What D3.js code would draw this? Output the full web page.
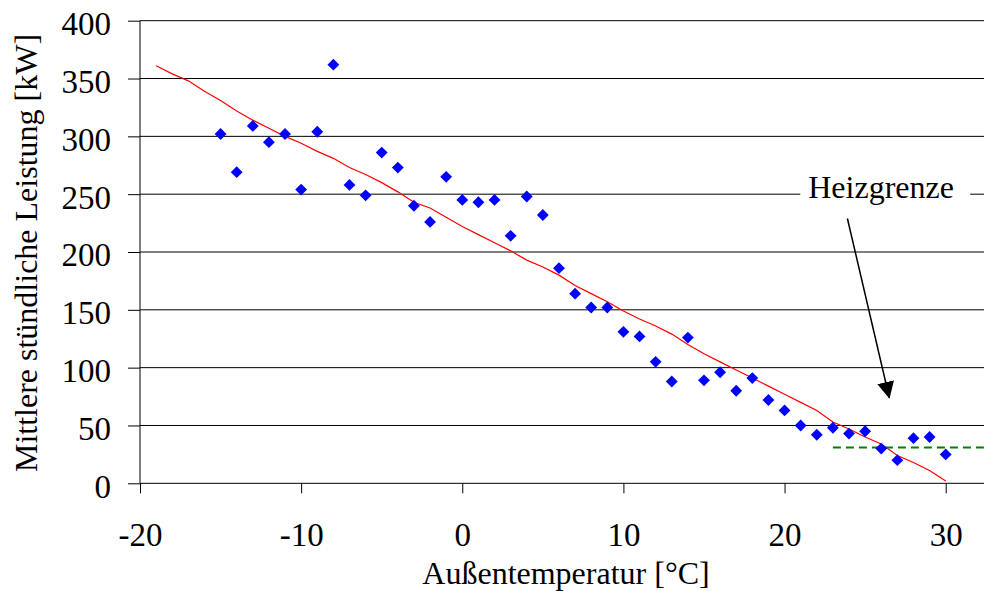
<!DOCTYPE html>
<meta charset="utf-8">
<script src="https://cdn.jsdelivr.net/npm/d3@7"></script>
<style>
body { margin: 0; background: #fff; }
svg text { font-family: "Liberation Serif", "DejaVu Serif", serif !important; fill: #000; }
.axis path { display: none; }
.axis line { stroke: #000; }
.axis text { font-size: 33px; }
.grid { stroke: #000; stroke-width: 1; }
</style>
<body>
<script>

var width = 984
var height = 591
var serif = "'Liberation Serif', 'DejaVu Serif', serif"

// Messwerte: Außentemperatur [°C] und mittlere stündliche Leistung [kW]
var temperatur = [-15, -14, -13, -12, -11, -10, -9, -8, -7, -6,
                  -5, -4, -3, -2, -1, 0, 1, 2, 3, 4,
                  5, 6, 7, 8, 9, 10, 11, 12, 13, 14,
                  15, 16, 17, 18, 19, 20, 21, 22, 23, 24,
                  25, 26, 27, 28, 29, 30]
var leistung = [302, 269, 309, 295, 302, 254, 304, 362, 258, 249,
                286, 273, 240, 226, 265, 245, 243, 245, 214, 248,
                232, 186, 164, 152, 152, 131, 127, 105, 88, 126,
                89, 96, 80, 91, 72, 63, 50, 42, 48, 43,
                45, 30, 20, 39, 40, 25]

// rote Trendlinie
var trendTemp = [-19, -18, -17, -16, -15, -14, -13, -12, -11, -10,
                 -9, -8, -7, -6, -5, -4, -3, -2, -1, 0,
                 1, 2, 3, 4, 5, 6, 7, 8, 9, 10,
                 11, 12, 13, 14, 15, 16, 17, 18, 19, 20,
                 21, 22, 23, 24, 25, 26, 27, 28, 29, 30]
var trendWert = [361, 354, 348, 339, 331, 322, 314, 307, 300, 294,
                 287, 281, 273, 267, 260, 252, 243, 238, 230, 222,
                 215, 208, 201, 193, 187, 180, 171, 164, 157, 149,
                 142, 136, 129, 120, 112, 105, 98, 91, 84, 77,
                 70, 63, 53, 47, 40, 34, 24, 18, 11, 2]

// Heizgrenze (gestrichelt) und Pfeil
var heizTemp = [23, 32.4]
var heizWert = [31, 31]
var pfeilVon = [23.9, 229]
var pfeilNach = [26.5, 74]
var labelPos = [21.47, 246.5]

var xTicks = [-20, -10, 0, 10, 20, 30]
var yTicks = [0, 50, 100, 150, 200, 250, 300, 350, 400]

var x = d3.scaleLinear().domain([-20, 30]).range([140, 945.7])
var y = d3.scaleLinear().domain([0, 400]).range([483.3, 20.7])

var svg = d3.select("body").append("svg")
            .attr("width", width)
            .attr("height", height)

// Gitterlinien
svg.append("g").selectAll("line")
    .data(yTicks.slice(1))
    .enter().append("line")
      .attr("class", "grid")
      .attr("x1", x(-20)).attr("x2", width)
      .attr("y1", d => y(d)).attr("y2", d => y(d))

// Achsen
svg.append("g")
    .attr("class", "axis")
    .attr("transform", "translate(" + x(-20) + ",0)")
    .call(d3.axisLeft(y).tickValues(yTicks).tickSize(12).tickPadding(17))
    .selectAll("text").attr("dy", "0.42em")

svg.append("g")
    .attr("class", "axis")
    .attr("transform", "translate(0," + y(0) + ")")
    .call(d3.axisBottom(x).tickValues(xTicks).tickSize(10)
            .tickFormat(d => String(d)))
    .selectAll("text").attr("y", 63).attr("dy", 0)

svg.selectAll(".axis").attr("font-family", serif)

svg.append("line")
    .attr("x1", x(-20)).attr("x2", x(-20))
    .attr("y1", y(400)).attr("y2", y(0))
    .attr("stroke", "#000")
svg.append("line")
    .attr("x1", x(-20)).attr("x2", width)
    .attr("y1", y(0)).attr("y2", y(0))
    .attr("stroke", "#000")

// Beschriftung Heizgrenze mit weißem Hintergrund
svg.append("rect")
    .attr("x", x(labelPos[0]) - 8).attr("y", y(labelPos[1]) - 24)
    .attr("width", 170).attr("height", 32)
    .attr("fill", "#fff")
svg.append("text")
    .attr("x", x(labelPos[0])).attr("y", y(labelPos[1]))
    .attr("font-family", serif)
    .style("font-size", "32px")
    .text("Heizgrenze")

// Trendlinie
svg.append("path")
    .datum(trendTemp.map((t, i) => [t, trendWert[i]]))
    .attr("fill", "none")
    .attr("stroke", "#ff0000")
    .attr("stroke-width", 1.2)
    .attr("d", d3.line().x(d => x(d[0])).y(d => y(d[1])))

// Heizgrenze gestrichelt
svg.append("path")
    .datum(heizTemp.map((t, i) => [t, heizWert[i]]))
    .attr("fill", "none")
    .attr("stroke", "#008000")
    .attr("stroke-width", 2)
    .attr("stroke-dasharray", "8,5")
    .attr("d", d3.line().x(d => x(d[0])).y(d => y(d[1])))

// Messpunkte
svg.append("g").selectAll("path")
    .data(temperatur.map((t, i) => [t, leistung[i]]))
    .enter().append("path")
      .attr("d", d3.symbol(d3.symbolSquare, 70))
      .attr("transform", d => "translate(" + x(d[0]) + "," + y(d[1]) + ") rotate(45)")
      .attr("fill", "#0000ff")

// Pfeil
svg.append("defs").append("marker")
    .attr("id", "spitze")
    .attr("viewBox", "0 0 16 16")
    .attr("refX", 15).attr("refY", 8)
    .attr("markerWidth", 17).attr("markerHeight", 17)
    .attr("markerUnits", "userSpaceOnUse")
    .attr("orient", "auto")
  .append("path")
    .attr("d", "M0,0L16,8L0,16Z")
    .attr("fill", "#000")

svg.append("line")
    .attr("x1", x(pfeilVon[0])).attr("y1", y(pfeilVon[1]))
    .attr("x2", x(pfeilNach[0])).attr("y2", y(pfeilNach[1]))
    .attr("stroke", "#000")
    .attr("stroke-width", 1.5)
    .attr("marker-end", "url(#spitze)")

// Achsentitel
svg.append("text")
    .attr("transform", "translate(37," + 253 + ") rotate(-90)")
    .attr("text-anchor", "middle")
    .attr("font-family", serif)
    .style("font-size", "32px")
    .text("Mittlere stündliche Leistung [kW]")

svg.append("text")
    .attr("x", 566).attr("y", 584)
    .attr("text-anchor", "middle")
    .attr("font-family", serif)
    .style("font-size", "32px")
    .text("Außentemperatur [°C]")

</script>
</body>
